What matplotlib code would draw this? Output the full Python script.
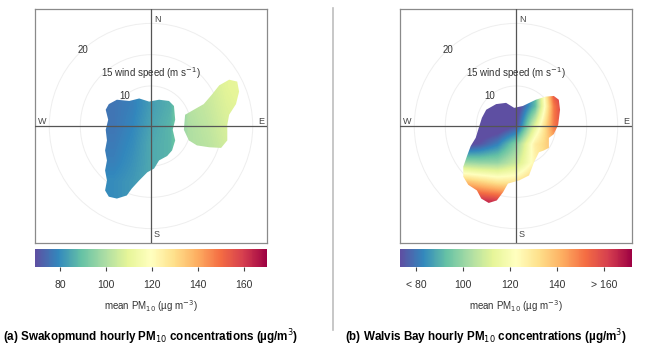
import numpy as np
import matplotlib
matplotlib.use("Agg")
import matplotlib.pyplot as plt
from matplotlib.path import Path
from matplotlib.patches import PathPatch
from matplotlib.colors import Normalize
from matplotlib.cm import ScalarMappable

plt.rcParams["font.family"] = ["Liberation Sans", "DejaVu Sans"]

# wind speed offset used by the polar plot (radius = ws - ws_lower)
ws_lower = 3.6
ring_ws = [5, 10, 15, 20]

# (a) Swakopmund: mean PM10 on a u/v grid (m/s), rows from north to south
u_a = [-9, -6, -3, 0, 3, 6, 9, 12, 15]
v_a = [9, 6, 3, 0, -3, -6, -9, -12]
pm_a = [
    [76, 76, 78, 83, 86, 101, 105, 109, 111],
    [76, 76, 78, 83, 86, 101, 105, 109, 111],
    [76, 76, 78, 83, 86, 101, 104, 108, 110],
    [76, 76, 79, 84, 87, 100, 103, 107, 109],
    [77, 77, 80, 85, 87, 100, 102, 106, 108],
    [78, 78, 81, 85, 87, 99, 101, 105, 107],
    [80, 80, 82, 85, 87, 99, 101, 105, 107],
    [80, 80, 82, 85, 87, 99, 101, 105, 107],
]
# outline of the area with data (u, v)
blob_a1 = [(-6.8, 3.5), (-5.5, 4.2), (-3.5, 4.0), (-1.9, 4.4), (-0.3, 3.9), (1.3, 4.2),
           (2.9, 4.0), (3.7, 3.2), (3.9, 1.0), (3.5, -0.6), (3.9, -2.3), (3.4, -3.9),
           (2.6, -4.8), (1.3, -5.5), (0.5, -6.8), (-0.6, -7.4), (-1.9, -8.7), (-3.1, -10.0),
           (-3.9, -11.1), (-5.5, -11.6), (-6.8, -11.3), (-7.4, -10.3), (-7.1, -8.7),
           (-7.4, -7.1), (-7.1, -5.5), (-7.4, -3.9), (-7.1, -2.3), (-7.3, -0.6),
           (-6.9, 1.0), (-7.3, 2.6)]
blob_a2 = [(5.5, 1.8), (6.9, 2.6), (8.5, 3.5), (9.8, 5.0), (11.0, 6.5), (12.6, 7.4),
           (13.9, 7.1), (14.2, 5.5), (13.7, 3.5), (12.6, 1.8), (12.3, 0.2), (12.3, -2.3),
           (11.3, -3.5), (9.4, -3.4), (7.4, -3.1), (6.1, -2.3), (5.3, -0.6)]

# (b) Walvis Bay
u_b = [-9, -6, -3, 0, 3, 6, 9]
v_b = [6, 3, 0, -3, -6, -9, -12, -15]
pm_b = [
    [65, 65, 65, 68, 90, 160, 175],
    [65, 65, 65, 68, 92, 150, 175],
    [65, 65, 66, 72, 112, 150, 170],
    [70, 74, 82, 98, 128, 140, 150],
    [102, 100, 100, 108, 126, 140, 145],
    [140, 135, 130, 130, 140, 150, 150],
    [170, 165, 162, 155, 155, 160, 160],
    [175, 175, 175, 175, 175, 175, 175],
]
blob_b = [(-4.8, 2.6), (-3.2, 3.5), (-1.6, 3.7), (-0.3, 2.9), (1.1, 3.2), (3.2, 4.2),
          (4.8, 4.7), (6.1, 4.8), (6.9, 4.2), (7.1, 2.6), (6.8, 0.2), (6.1, -1.3),
          (5.3, -1.9), (5.3, -3.5), (4.5, -3.9), (3.7, -4.2), (2.9, -5.8), (2.1, -7.9),
          (0.5, -8.7), (-1.3, -9.2), (-2.1, -10.6), (-3.1, -11.9), (-4.4, -12.3),
          (-5.6, -11.6), (-6.3, -10.3), (-7.7, -9.4), (-8.5, -8.1), (-8.5, -6.5),
          (-7.9, -4.8), (-7.3, -3.2), (-6.5, -1.9), (-6.0, -0.3), (-5.5, 1.3)]

ticks = [80, 100, 120, 140, 160]
ticklabels_a = ["80", "100", "120", "140", "160"]
ticklabels_b = ["< 80", "100", "120", "140", "> 160"]
lims_a = (69, 170)
lims_b = (73, 172)

captions = ["(a) Swakopmund hourly PM$_{10}$ concentrations (µg/m$^3$)",
            "(b) Walvis Bay hourly PM$_{10}$ concentrations (µg/m$^3$)"]

W, H = 653, 356
fig = plt.figure(figsize=(W / 100, H / 100), dpi=100)
half = 18.7


def blob_path(polys):
    paths = []
    for p in polys:
        verts = list(p) + [p[0]]
        codes = [Path.MOVETO] + [Path.LINETO] * (len(p) - 1) + [Path.CLOSEPOLY]
        paths.append(Path(verts, codes))
    return Path.make_compound_path(*paths)


def panel(x0, u, v, pm, polys, lims, labels):
    ax = fig.add_axes([x0 / W, 1 - 243 / H, 232 / W, 234 / H])
    ax.set_xlim(-half, half)
    ax.set_ylim(-half, half)
    ax.set_xticks([])
    ax.set_yticks([])
    for s in ax.spines.values():
        s.set_color("#8a8a8a")
        s.set_linewidth(0.9)

    for ws in ring_ws:
        ax.add_patch(plt.Circle((0, 0), ws - ws_lower, fill=False, color="#eeeeee", lw=0.7, zorder=0))

    norm = Normalize(*lims)
    du = u[1] - u[0]
    dv = v[0] - v[1]
    im = ax.imshow(np.array(pm, float), cmap="Spectral_r", norm=norm, interpolation="bilinear",
                   extent=(u[0] - du / 2, u[-1] + du / 2, v[-1] - dv / 2, v[0] + dv / 2),
                   origin="upper", aspect="auto", zorder=1)
    clip = PathPatch(blob_path(polys), transform=ax.transData, facecolor="none", edgecolor="none")
    ax.add_patch(clip)
    im.set_clip_path(clip)

    ax.axhline(0, color="#555555", lw=0.9, zorder=3)
    ax.axvline(0, color="#555555", lw=0.9, zorder=3)
    ax.text(0.6, half - 1.6, "N", fontsize=6.5, color="#444", va="center", ha="left")
    ax.text(0.4, -half + 1.3, "S", fontsize=6.5, color="#444", va="center", ha="left")
    ax.text(-half + 0.4, 0.7, "W", fontsize=6.5, color="#444", va="center", ha="left")
    ax.text(half - 0.4, 0.7, "E", fontsize=6.5, color="#444", va="center", ha="right")

    ang = np.deg2rad(42)
    for ws in [10, 15, 20]:
        r = ws - ws_lower
        x, y = -r * np.sin(ang), r * np.cos(ang)
        if ws == 15:
            ax.text(x - 0.4, y, "15 wind speed (m s$^{-1}$)", fontsize=7, color="#333",
                    ha="left", va="center")
        else:
            ax.text(x, y, str(ws), fontsize=7, color="#333", ha="center", va="center")

    cax = fig.add_axes([x0 / W, 1 - 267 / H, 232 / W, 18 / H])
    cb = fig.colorbar(ScalarMappable(norm=norm, cmap="Spectral_r"), cax=cax, orientation="horizontal")
    cb.outline.set_visible(False)
    cb.set_ticks(ticks)
    cb.set_ticklabels(labels)
    cax.tick_params(length=3, width=0.8, color="#444", labelsize=7.5, labelcolor="#333", pad=6)
    cb.set_label("mean PM$_{10}$ (µg m$^{-3}$)", fontsize=7, color="#333", labelpad=6)
    return ax


panel(35, u_a, v_a, pm_a, [blob_a1, blob_a2], lims_a, ticklabels_a)
panel(400, u_b, v_b, pm_b, [blob_b], lims_b, ticklabels_b)

fig.text(3 / W, 1 - 337 / H, captions[0], fontsize=8.4, fontweight="bold", ha="left", va="center")
fig.text(345 / W, 1 - 337 / H, captions[1], fontsize=8.4, fontweight="bold", ha="left", va="center")

fig.add_artist(plt.Line2D([333 / W, 333 / W], [1 - 8 / H, 1 - 330 / H], color="#bdbdbd", lw=1.2))

fig.savefig("out.png", dpi=100)
